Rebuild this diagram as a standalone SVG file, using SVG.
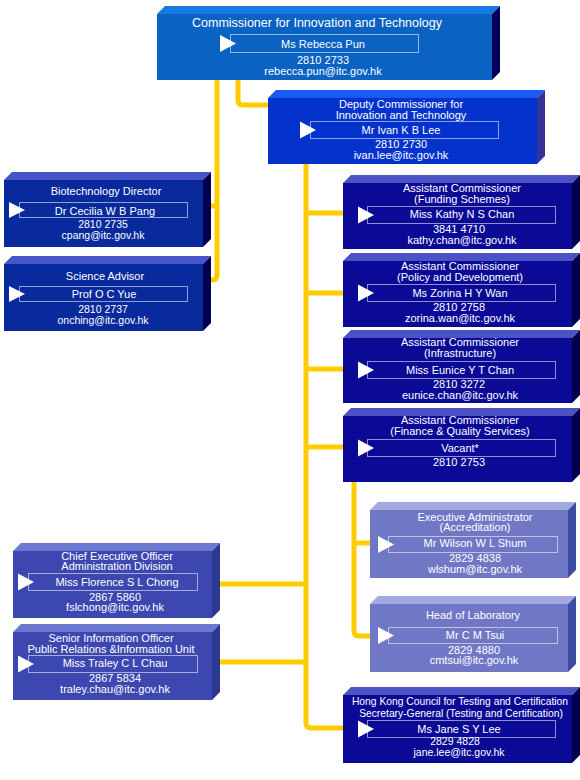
<svg xmlns="http://www.w3.org/2000/svg" width="580" height="780" viewBox="0 0 580 780">
<style>
.c{fill:none;stroke:#ffcc00;stroke-width:5;stroke-linecap:butt;stroke-linejoin:round}
text{font-family:"Liberation Sans",Arial,sans-serif;font-size:11px;fill:#ffffff;text-anchor:middle}
.t12{font-size:12.5px}
.t10{font-size:10.3px}
.s{font-size:10.5px}
.nb{fill:none;stroke:#ffffff;stroke-opacity:0.55;stroke-width:1}
.tri{fill:#ffffff}
.a .f{fill:#0a0a96}.a .tp{fill:#4a52c4}.a .sd{fill:#00004e}
.b .f{fill:#082a9c}.b .tp{fill:#4656c8}.b .sd{fill:#00004e}
.c1 .f{fill:#3c48b0}.c1 .tp{fill:#6c78d0}.c1 .sd{fill:#2c3890}
.d .f{fill:#7078c6}.d .tp{fill:#a2aae0}.d .sd{fill:#3c4ca0}
.top .f{fill:#0a62c2}.top .tp{fill:#1a78e2}.top .sd{fill:#000058}
.dep .f{fill:#0333cc}.dep .tp{fill:#1a5aee}.dep .sd{fill:#333399}
</style>
<g id="connectors">
<path class="c" d="M217,80 V275 Q217,280 212,280 H210"/>
<path class="c" d="M210,206 H217"/>
<path class="c" d="M238,80 V100 Q238,105 243,105 H268"/>
<path class="c" d="M306,164 V723 Q306,728 311,728 H343"/>
<path class="c" d="M306,213 H343 M306,293 H343 M306,369 H343 M306,447 H343"/>
<path class="c" d="M219,584 H306 M219,662 H306"/>
<path class="c" d="M354,482 V631 Q354,636 359,636 H370"/>
<path class="c" d="M354,543 H370"/>
</g>

<g id="commissioner" class="top">
<polygon class="tp" points="157,14 165,6 500,6 492,14"/>
<polygon class="sd" points="492,14 500,6 500,72 492,80"/>
<rect class="f" x="157" y="14" width="335" height="66"/>
<rect class="nb" x="230.5" y="34.5" width="188" height="18"/>
<polygon class="tri" points="220,35 236,43.5 220,52"/>
<text class="t12" x="317" y="27">Commissioner for Innovation and Technology</text>
<text x="323" y="48">Ms Rebecca Pun</text>
<text x="323" y="64">2810 2733</text>
<text x="323" y="75">rebecca.pun@itc.gov.hk</text>
</g>

<g id="deputy" class="dep">
<polygon class="tp" points="268,98 276,90 545,90 537,98"/>
<polygon class="sd" points="537,98 545,90 545,156 537,164"/>
<rect class="f" x="268" y="98" width="269" height="66"/>
<rect class="nb" x="310.5" y="121.5" width="188" height="17"/>
<polygon class="tri" points="300,121.5 316,130 300,138.5"/>
<text x="401" y="107.5">Deputy Commissioner for</text>
<text x="401" y="118.5">Innovation and Technology</text>
<text x="401" y="134">Mr Ivan K B Lee</text>
<text x="401" y="148">2810 2730</text>
<text x="401" y="159">ivan.lee@itc.gov.hk</text>
</g>

<g id="biotech" class="b">
<polygon class="tp" points="4,180 12,172 211,172 203,180"/>
<polygon class="sd" points="203,180 211,172 211,239 203,247"/>
<rect class="f" x="4" y="180" width="199" height="67"/>
<rect class="nb" x="19.5" y="202.5" width="168" height="15"/>
<polygon class="tri" points="9,202 25,210 9,218"/>
<text x="106" y="195">Biotechnology Director</text>
<text x="105" y="214.5">Dr Cecilia W B Pang</text>
<text class="s" x="103" y="228">2810 2735</text>
<text class="s" x="103" y="239">cpang@itc.gov.hk</text>
</g>

<g id="science" class="b">
<polygon class="tp" points="4,264 12,256 211,256 203,264"/>
<polygon class="sd" points="203,264 211,256 211,323 203,331"/>
<rect class="f" x="4" y="264" width="199" height="67"/>
<rect class="nb" x="19.5" y="286.5" width="168" height="15"/>
<polygon class="tri" points="9,286 25,294 9,302"/>
<text x="105" y="280">Science Advisor</text>
<text x="104" y="298">Prof O C Yue</text>
<text class="s" x="103" y="313">2810 2737</text>
<text class="s" x="103" y="323.5">onching@itc.gov.hk</text>
</g>

<g id="funding" class="a">
<polygon class="tp" points="343,183 351,175 580,175 572,183"/>
<polygon class="sd" points="572,183 580,175 580,241 572,249"/>
<rect class="f" x="343" y="183" width="229" height="66"/>
<rect class="nb" x="367.5" y="206.5" width="188" height="17"/>
<polygon class="tri" points="358,206.5 374,215 358,223.5"/>
<text x="462" y="192">Assistant Commissioner</text>
<text x="462" y="203">(Funding Schemes)</text>
<text x="462" y="218">Miss Kathy N S Chan</text>
<text x="459" y="233">3841 4710</text>
<text x="462" y="243.5">kathy.chan@itc.gov.hk</text>
</g>

<g id="policy" class="a">
<polygon class="tp" points="343,261 351,253 580,253 572,261"/>
<polygon class="sd" points="572,261 580,253 580,319 572,327"/>
<rect class="f" x="343" y="261" width="229" height="66"/>
<rect class="nb" x="367.5" y="284.5" width="188" height="17"/>
<polygon class="tri" points="358,284.5 374,293 358,301.5"/>
<text x="460" y="270">Assistant Commissioner</text>
<text x="460" y="281">(Policy and Development)</text>
<text x="460" y="296.5">Ms Zorina H Y Wan</text>
<text x="459" y="311">2810 2758</text>
<text x="460" y="322">zorina.wan@itc.gov.hk</text>
</g>

<g id="infrastructure" class="a">
<polygon class="tp" points="343,338 351,330 580,330 572,338"/>
<polygon class="sd" points="572,338 580,330 580,395 572,403"/>
<rect class="f" x="343" y="338" width="229" height="65"/>
<rect class="nb" x="367.5" y="361.5" width="188" height="17"/>
<polygon class="tri" points="358,361.5 374,370 358,378.5"/>
<text x="460" y="346">Assistant Commissioner</text>
<text x="460" y="356.5">(Infrastructure)</text>
<text x="460" y="373.5">Miss Eunice Y T Chan</text>
<text x="459" y="388">2810 3272</text>
<text x="460" y="399">eunice.chan@itc.gov.hk</text>
</g>

<g id="finance" class="a">
<polygon class="tp" points="343,416 351,408 580,408 572,416"/>
<polygon class="sd" points="572,416 580,408 580,474 572,482"/>
<rect class="f" x="343" y="416" width="229" height="66"/>
<rect class="nb" x="367.5" y="439.5" width="188" height="17"/>
<polygon class="tri" points="358,439.5 374,448 358,456.5"/>
<text x="460" y="424">Assistant Commissioner</text>
<text x="460" y="435">(Finance &amp; Quality Services)</text>
<text x="460" y="451.5">Vacant*</text>
<text x="459" y="465.5">2810 2753</text>
</g>

<g id="exec-admin" class="d">
<polygon class="tp" points="370,510 378,502 576,502 568,510"/>
<polygon class="sd" points="568,510 576,502 576,570 568,578"/>
<rect class="f" x="370" y="510" width="198" height="68"/>
<rect class="nb" x="388.5" y="536.5" width="169" height="16"/>
<polygon class="tri" points="378,536 394,544.5 378,553"/>
<text x="475" y="520.5">Executive Administrator</text>
<text x="475" y="531">(Accreditation)</text>
<text x="475" y="547">Mr Wilson W L Shum</text>
<text x="475" y="562">2829 4838</text>
<text x="475" y="572.5">wlshum@itc.gov.hk</text>
</g>

<g id="head-lab" class="d">
<polygon class="tp" points="370,604 378,596 576,596 568,604"/>
<polygon class="sd" points="568,604 576,596 576,664 568,672"/>
<rect class="f" x="370" y="604" width="198" height="68"/>
<rect class="nb" x="388.5" y="627.5" width="169" height="16"/>
<polygon class="tri" points="378,627 394,635.5 378,644"/>
<text x="473" y="618.5">Head of Laboratory</text>
<text x="475" y="638.5">Mr C M Tsui</text>
<text x="474" y="653.5">2829 4880</text>
<text x="474" y="664">cmtsui@itc.gov.hk</text>
</g>

<g id="chief-exec" class="c1">
<polygon class="tp" points="13,551 21,543 220,543 212,551"/>
<polygon class="sd" points="212,551 220,543 220,610 212,618"/>
<rect class="f" x="13" y="551" width="199" height="67"/>
<rect class="nb" x="28.5" y="573.5" width="169" height="17"/>
<polygon class="tri" points="18,573.5 34,582 18,590.5"/>
<text x="117" y="559.5">Chief Executive Officer</text>
<text x="117" y="570">Administration Division</text>
<text x="117" y="585.5">Miss Florence S L Chong</text>
<text x="115" y="600.5">2867 5860</text>
<text x="115" y="611">fslchong@itc.gov.hk</text>
</g>

<g id="senior-info" class="c1">
<polygon class="tp" points="13,632 21,624 220,624 212,632"/>
<polygon class="sd" points="212,632 220,624 220,692 212,700"/>
<rect class="f" x="13" y="632" width="199" height="68"/>
<rect class="nb" x="28.5" y="655.5" width="169" height="17"/>
<polygon class="tri" points="18,655.5 34,664 18,672.5"/>
<text x="111" y="641.5">Senior Information Officer</text>
<text x="111" y="652.5">Public Relations &amp;Information Unit</text>
<text x="115" y="667">Miss Traley C L Chau</text>
<text x="115" y="682">2867 5834</text>
<text x="115" y="693">traley.chau@itc.gov.hk</text>
</g>

<g id="hk-council" class="a">
<polygon class="tp" points="343,695 351,687 580,687 572,695"/>
<polygon class="sd" points="572,695 580,687 580,755 572,763"/>
<rect class="f" x="343" y="695" width="229" height="68"/>
<rect class="nb" x="367.5" y="720.5" width="188" height="17"/>
<polygon class="tri" points="358,720.5 374,729 358,737.5"/>
<text class="t10" x="460" y="705">Hong Kong Council for Testing and Certification</text>
<text class="t10" x="461" y="717">Secretary-General (Testing and Certification)</text>
<text x="459" y="732.5">Ms Jane S Y Lee</text>
<text class="s" x="455" y="745">2829 4828</text>
<text class="s" x="459" y="755.5">jane.lee@itc.gov.hk</text>
</g>
</svg>
